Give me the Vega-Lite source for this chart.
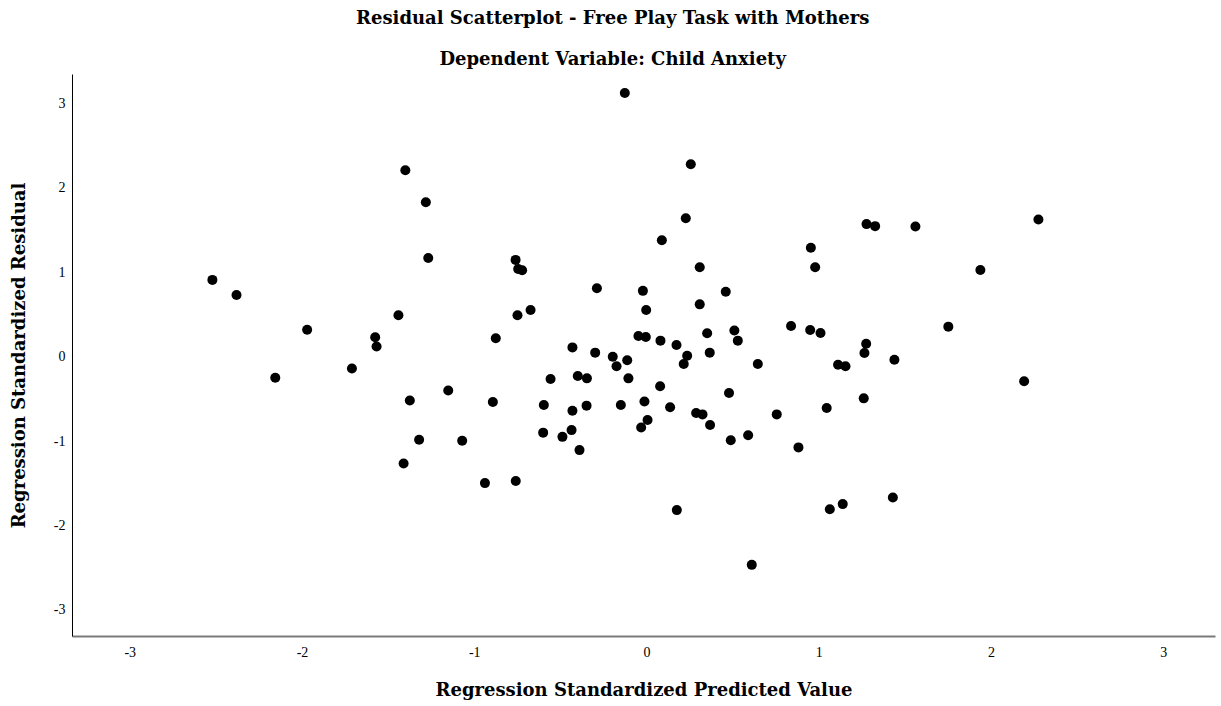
{
  "$schema": "https://vega.github.io/schema/vega-lite/v6.json",
  "autosize": "none",
  "width": 1143,
  "height": 562,
  "padding": {"left": 72, "top": 74, "right": 6, "bottom": 70},
  "background": "white",
  "title": {
    "text": "Residual Scatterplot - Free Play Task with Mothers",
    "subtitle": "Dependent Variable: Child Anxiety",
    "font": "DejaVu Serif",
    "subtitleFont": "DejaVu Serif",
    "fontSize": 18,
    "subtitleFontSize": 18,
    "fontWeight": "bold",
    "subtitleFontWeight": "bold",
    "color": "black",
    "subtitleColor": "black",
    "anchor": "middle",
    "frame": "bounds",
    "subtitlePadding": 23,
    "offset": 5
  },
  "data": {
    "values": [
      {"pred": -2.52, "resid": 0.91}, {"pred": -2.38, "resid": 0.73}, {"pred": -1.40, "resid": 2.21},
      {"pred": -1.97, "resid": 0.32}, {"pred": -1.44, "resid": 0.49}, {"pred": -1.575, "resid": 0.23},
      {"pred": -1.567, "resid": 0.12}, {"pred": -1.71, "resid": -0.14}, {"pred": -2.155, "resid": -0.25},
      {"pred": -1.374, "resid": -0.52}, {"pred": -1.32, "resid": -0.985}, {"pred": -1.41, "resid": -1.265},
      {"pred": -0.126, "resid": 3.125}, {"pred": -1.281, "resid": 1.83}, {"pred": -1.267, "resid": 1.17},
      {"pred": 0.257, "resid": 2.28}, {"pred": 0.228, "resid": 1.64}, {"pred": 0.089, "resid": 1.38},
      {"pred": -0.76, "resid": 1.147}, {"pred": -0.745, "resid": 1.04}, {"pred": -0.722, "resid": 1.025},
      {"pred": 0.309, "resid": 1.06}, {"pred": 0.954, "resid": 1.29}, {"pred": 0.979, "resid": 1.06},
      {"pred": -0.288, "resid": 0.81}, {"pred": -0.021, "resid": 0.78}, {"pred": 0.46, "resid": 0.77},
      {"pred": 0.309, "resid": 0.62}, {"pred": -0.002, "resid": 0.554}, {"pred": -0.673, "resid": 0.554},
      {"pred": -0.749, "resid": 0.49}, {"pred": -0.875, "resid": 0.218}, {"pred": 0.839, "resid": 0.364},
      {"pred": 0.95, "resid": 0.317}, {"pred": 1.01, "resid": 0.28}, {"pred": -0.047, "resid": 0.245},
      {"pred": -0.004, "resid": 0.234}, {"pred": 0.081, "resid": 0.19}, {"pred": 0.352, "resid": 0.277},
      {"pred": 0.51, "resid": 0.31}, {"pred": 0.53, "resid": 0.19}, {"pred": 0.174, "resid": 0.139},
      {"pred": 0.367, "resid": 0.048}, {"pred": 0.236, "resid": 0.012}, {"pred": 0.216, "resid": -0.087},
      {"pred": 0.646, "resid": -0.087}, {"pred": -0.43, "resid": 0.11}, {"pred": -0.298, "resid": 0.048},
      {"pred": -0.196, "resid": 0.0}, {"pred": -0.174, "resid": -0.114}, {"pred": -0.112, "resid": -0.043},
      {"pred": -0.105, "resid": -0.257}, {"pred": -0.557, "resid": -0.265}, {"pred": -0.399, "resid": -0.229},
      {"pred": -0.346, "resid": -0.257}, {"pred": 0.079, "resid": -0.35}, {"pred": -1.151, "resid": -0.4},
      {"pred": 0.479, "resid": -0.43}, {"pred": -0.892, "resid": -0.537}, {"pred": -0.596, "resid": -0.573},
      {"pred": -0.43, "resid": -0.64}, {"pred": -0.348, "resid": -0.58}, {"pred": -0.149, "resid": -0.573},
      {"pred": -0.012, "resid": -0.53}, {"pred": 0.137, "resid": -0.6}, {"pred": 0.288, "resid": -0.668},
      {"pred": 0.325, "resid": -0.684}, {"pred": 0.369, "resid": -0.81}, {"pred": 0.756, "resid": -0.684},
      {"pred": 0.006, "resid": -0.751}, {"pred": -0.031, "resid": -0.84}, {"pred": -0.6, "resid": -0.9},
      {"pred": -0.488, "resid": -0.95}, {"pred": -0.435, "resid": -0.87}, {"pred": -0.389, "resid": -1.107},
      {"pred": 0.489, "resid": -0.99}, {"pred": 0.59, "resid": -0.93}, {"pred": 0.882, "resid": -1.075},
      {"pred": -1.07, "resid": -0.996}, {"pred": -0.938, "resid": -1.498}, {"pred": -0.759, "resid": -1.474},
      {"pred": 0.176, "resid": -1.818}, {"pred": 0.611, "resid": -2.467}, {"pred": 1.277, "resid": 1.571},
      {"pred": 1.327, "resid": 1.547}, {"pred": 1.561, "resid": 1.542}, {"pred": 2.275, "resid": 1.625},
      {"pred": 1.938, "resid": 1.028}, {"pred": 1.752, "resid": 0.356}, {"pred": 1.275, "resid": 0.154},
      {"pred": 1.265, "resid": 0.044}, {"pred": 1.112, "resid": -0.095}, {"pred": 1.155, "resid": -0.114},
      {"pred": 1.439, "resid": -0.036}, {"pred": 2.192, "resid": -0.292}, {"pred": 1.046, "resid": -0.609},
      {"pred": 1.261, "resid": -0.494}, {"pred": 1.064, "resid": -1.807}, {"pred": 1.139, "resid": -1.747},
      {"pred": 1.43, "resid": -1.668}
    ]
  },
  "mark": {"type": "point", "filled": true, "shape": "circle", "size": 100, "color": "black", "opacity": 1},
  "encoding": {
    "x": {
      "field": "pred",
      "type": "quantitative",
      "title": "Regression Standardized Predicted Value",
      "scale": {"domain": [-3.335, 3.3], "nice": false, "zero": false},
      "axis": {
        "values": [-3, -2, -1, 0, 1, 2, 3],
        "labelExpr": "replace(datum.label, '\u2212', '-')",
        "grid": false,
        "ticks": false,
        "domainColor": "#7a7a7a",
        "domainWidth": 2,
        "labelFont": "Liberation Serif",
        "labelFontSize": 14,
        "labelColor": "black",
        "labelPadding": 9,
        "titleFont": "DejaVu Serif",
        "titleFontSize": 18,
        "titleFontWeight": "bold",
        "titleColor": "black",
        "titlePadding": 22
      }
    },
    "y": {
      "field": "resid",
      "type": "quantitative",
      "title": "Regression Standardized Residual",
      "scale": {"domain": [-3.31, 3.35], "nice": false, "zero": false},
      "axis": {
        "values": [-3, -2, -1, 0, 1, 2, 3],
        "labelExpr": "replace(datum.label, '\u2212', '-')",
        "grid": false,
        "ticks": false,
        "domainColor": "black",
        "domainWidth": 1,
        "labelFont": "Liberation Serif",
        "labelFontSize": 14,
        "labelColor": "black",
        "labelPadding": 7,
        "titleFont": "DejaVu Serif",
        "titleFontSize": 18,
        "titleFontWeight": "bold",
        "titleColor": "black",
        "titlePadding": 25
      }
    }
  },
  "config": {"view": {"stroke": null}}
}
